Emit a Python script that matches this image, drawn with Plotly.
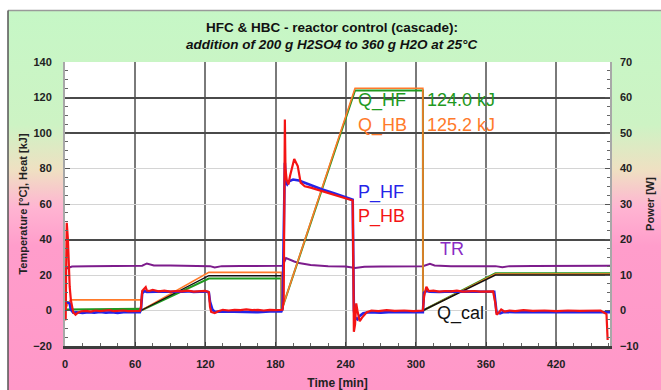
import base64
import plotly.graph_objects as go

# ---------------- data ----------------
# Reactor temperature TR [°C]
t_tr = [0, 1, 3, 6, 20, 40, 60, 66, 70, 76, 90, 110, 124, 128, 134, 150, 170, 186, 189, 192,
        196, 200, 210, 225, 240, 248, 256, 270, 290, 306, 312, 316, 330, 350, 368, 374, 380,
        400, 430, 466]
tr = [23.3, 23.5, 24.2, 24.8, 25.0, 25.1, 25.1, 25.2, 26.5, 25.4, 25.3, 25.2, 25.0, 24.2,
      25.0, 25.1, 25.2, 25.2, 29.5, 28.5, 27.6, 26.7, 25.6, 25.0, 24.8, 23.9, 24.6, 24.8,
      24.9, 25.0, 26.3, 25.4, 25.0, 24.9, 25.0, 24.4, 25.0, 25.1, 25.2, 25.2]

# Heat Q_HF [kJ]
t_qhf = [0, 65, 65.1, 123, 185, 185.1, 248, 306, 306.1, 368, 466]
q_hf = [0.5, 1.0, 0.0, 18.0, 18.0, 0.0, 124.0, 124.0, 0.0, 21.0, 21.0]

# Heat Q_HB [kJ]
t_qhb = [0, 1, 3, 5, 65, 65.1, 123, 185, 185.1, 248, 306, 306.1, 368, 466]
q_hb = [0.0, 1.5, 4.5, 6.0, 6.0, 0.0, 21.5, 21.5, 0.0, 125.2, 125.2, 0.0, 20.6, 20.6]

# Calibration heat Q_cal [kJ]
t_qcal = [65, 123, 185, 250, 306, 368, 466]
q_cal = [0.0, 19.6, 19.6, None, 0.0, 20.0, 20.0]

# Power P_HF [W]
t_phf = [0, 0.5, 2, 4, 5, 7, 10, 15, 20, 25, 30, 35, 40, 45, 50, 55, 60, 64, 65, 66, 68, 70,
         75, 80, 85, 90, 95, 100, 105, 110, 115, 122, 123, 124, 126, 128, 135, 145, 155, 165,
         175, 185, 186, 187, 188, 189, 190, 192, 195, 200, 210, 220, 230, 240, 246, 246.5,
         247, 248, 250, 252, 255, 260, 270, 280, 290, 300, 306, 307, 309, 312, 320, 330, 340,
         350, 360, 367, 368, 368.5, 369, 370, 372, 375, 385, 400, 420, 440, 460, 466]
p_hf = [1.5, 2.2, 2.3, 2.0, 0.2, -0.6, -0.5, -0.7, -0.5, -0.6, -0.4, -0.6, -0.5, -0.7, -0.5,
        -0.6, -0.5, -0.5, 0.5, 4.8, 5.5, 5.2, 5.3, 5.2, 5.4, 5.3, 5.2, 5.3, 5.4, 5.2, 5.3, 5.3,
        5.0, 2.5, 0.3, -0.4, -0.3, -0.4, -0.3, -0.5, -0.3, -0.3, 0.5, 20.0, 41.6, 36.0, 35.5,
        36.5, 36.9, 36.6, 35.3, 34.1, 33.0, 31.9, 31.2, 15.0, 0.0, -2.0, -2.5, -1.5, -0.8,
        -0.5, -0.6, -0.4, -0.5, -0.6, -0.5, 5.0, 5.5, 5.3, 5.2, 5.4, 5.3, 5.2, 5.3, 5.3, 3.0,
        0.5, -0.5, -0.6, -0.8, -0.4, -0.5, -0.4, -0.5, -0.4, -0.5, -0.5]

# Power P_HB [W]
t_phb = [0, 0.6, 1, 1.5, 2.5, 3.5, 4, 5, 6, 7, 9, 11, 14, 18, 22, 26, 30, 34, 38, 42, 46, 50,
         54, 58, 62, 64, 65, 66, 69, 70, 72, 75, 80, 85, 90, 95, 100, 105, 110, 115, 120, 123,
         124, 125, 128, 131, 135, 140, 145, 150, 155, 160, 165, 170, 175, 180, 186, 187,
         187.5, 188, 188.5, 189.5, 191, 192.5, 196, 199, 201.5, 205, 210, 220, 230, 240, 246,
         246.6, 247, 248, 249, 250, 252, 254, 258, 262, 268, 275, 282, 290, 298, 306, 307, 309,
         311, 315, 320, 325, 330, 335, 340, 345, 350, 355, 360, 366, 368, 368.5, 369, 371,
         373, 376, 380, 385, 392, 400, 410, 420, 430, 440, 450, 458, 463, 464, 466]
p_hb = [-2.7, -2.5, 12.0, 24.7, 20.0, 10.0, 6.7, 3.0, 1.1, -0.5, -1.2, -0.6, -0.2, -0.1, -0.3,
        0.0, -0.2, -0.1, 0.1, -0.2, -0.1, 0.0, -0.2, -0.1, 0.0, -0.1, 1.0, 5.5, 6.6, 5.6, 5.5,
        5.8, 5.4, 5.6, 5.3, 5.5, 5.4, 5.6, 5.3, 5.4, 5.5, 5.2, 1.0, -0.4, -0.75, -0.2, 0.2, 0.0,
        0.2, 0.1, 0.3, 0.1, 0.2, 0.0, 0.2, 0.1, 0.2, 3.0, 40.0, 53.8, 40.0, 36.9, 35.5, 38.0,
        42.7, 40.7, 36.0, 35.0, 34.6, 33.6, 32.6, 31.6, 31.0, 10.0, -6.0, -4.0, 2.0, 0.0, -3.0,
        -2.0, -0.5, 0.0, -0.2, 0.1, -0.1, 0.0, -0.2, 0.0, 4.0, 6.7, 5.5, 5.6, 5.3, 5.5, 5.4,
        5.6, 5.3, 5.4, 5.5, 5.3, 5.4, 5.4, 2.0, 0.0, -1.2, -0.6, 0.3, -0.3, 0.0, -0.2, 0.1,
        -0.1, 0.0, -0.2, 0.0, -0.1, 0.0, 0.0, -1.0, -8.3]

x_ticks = [0, 60, 120, 180, 240, 300, 360, 420]
x_tick_labels = ["0", "60", "120", "180", "240", "300", "360", "420"]
dark_grid = [120, 100, 40]

# ---------------- layout geometry ----------------
W, H = 661, 390
ML, MR, MT, MB = 65, 51, 62, 44
PW, PH = W - ML - MR, H - MT - MB
FONT = "Liberation Sans, Arial, sans-serif"

GREEN = "#1f9a1f"
ORANGE = "#ff7a2a"
BLUE = "#2424e8"
RED = "#f41414"
PURPLE = "#7d1c8c"

fig = go.Figure()
# helper trace that makes the overlay axis carrying the dark grid lines exist
fig.add_trace(go.Scatter(x=[None], y=[None], yaxis="y3", showlegend=False, hoverinfo="skip"))
fig.add_trace(go.Scatter(x=t_tr, y=tr, mode="lines", line=dict(color=PURPLE, width=2), name="TR"))
fig.add_trace(go.Scatter(x=t_qhf, y=q_hf, mode="lines", line=dict(color=GREEN, width=2), name="Q_HF"))
fig.add_trace(go.Scatter(x=t_qhb, y=q_hb, mode="lines", line=dict(color=ORANGE, width=1.6), name="Q_HB"))
fig.add_trace(go.Scatter(x=t_qcal, y=q_cal, mode="lines", line=dict(color="#111111", width=1.4),
                         connectgaps=False, name="Q_cal"))
fig.add_trace(go.Scatter(x=t_phf, y=p_hf, mode="lines", line=dict(color=BLUE, width=2.6),
                         yaxis="y2", name="P_HF"))
fig.add_trace(go.Scatter(x=t_phb, y=p_hb, mode="lines", line=dict(color=RED, width=2.2),
                         yaxis="y2", name="P_HB"))

# background gradient (outside plot area)
svg = ("<svg xmlns='http://www.w3.org/2000/svg' width='653' height='379' preserveAspectRatio='none'>"
       "<defs><linearGradient id='g' x1='0' y1='0' x2='0' y2='1'>"
       "<stop offset='0' stop-color='#c6f7c6'/>"
       "<stop offset='0.30' stop-color='#cdf3c4'/>"
       "<stop offset='0.42' stop-color='#efe0c2'/>"
       "<stop offset='0.52' stop-color='#ffb4d2'/>"
       "<stop offset='0.62' stop-color='#ff9dcb'/>"
       "<stop offset='1' stop-color='#ff98c8'/>"
       "</linearGradient></defs><rect width='100%' height='100%' fill='url(#g)'/></svg>")
src = "data:image/svg+xml;base64," + base64.b64encode(svg.encode()).decode()


def px_x(p):
    return (p - ML) / PW


def px_y(p):
    return (H - MB - p) / PH


shapes = [
    # white plot area on top of the background picture
    dict(type="rect", xref="paper", yref="paper", x0=0, x1=1, y0=0, y1=1,
         fillcolor="white", line=dict(width=0), layer="below"),
    # frame border lines of the window
    dict(type="line", xref="paper", yref="paper", x0=px_x(8), x1=px_x(W), y0=px_y(10.5),
         y1=px_y(10.5), line=dict(color="#9a9a9a", width=1.5), layer="above"),
    dict(type="line", xref="paper", yref="paper", x0=px_x(8), x1=px_x(8), y0=px_y(10.5),
         y1=px_y(H), line=dict(color="#555555", width=1.5), layer="above"),
]


def ann(x, y, text, color, size=18):
    return dict(x=x, y=y, xref="x", yref="y", text=text, showarrow=False, xanchor="left",
                yanchor="middle", font=dict(family=FONT, size=size, color=color))


annotations = [
    ann(249, 118.5, "Q_HF", GREEN),
    ann(307.5, 118.5, "124.0 kJ", GREEN),
    ann(249, 104.5, "Q_HB", ORANGE),
    ann(307.5, 104.5, "125.2 kJ", ORANGE),
    ann(249, 66.5, "P_HF", BLUE),
    ann(249, 53.0, "P_HB", RED),
    ann(319, 34.5, "TR", "#8a2cc4"),
    ann(316, -1.5, "Q_cal", "#111111"),
    dict(xref="paper", yref="paper", x=px_x(332), y=px_y(27),
         text="<b>HFC &amp; HBC - reactor control (cascade):</b>",
         showarrow=False, xanchor="center", yanchor="middle",
         font=dict(family=FONT, size=13.5, color="#111111")),
    dict(xref="paper", yref="paper", x=px_x(331), y=px_y(44),
         text="<b><i>addition of 200 g H2SO4 to 360 g H2O at 25°C</i></b>",
         showarrow=False, xanchor="center", yanchor="middle",
         font=dict(family=FONT, size=13.5, color="#111111")),
]

tickfont = dict(family=FONT, size=11, color="#222222", weight="bold")

fig.update_layout(
    width=W, height=H,
    margin=dict(l=ML, r=MR, t=MT, b=MB, pad=0, autoexpand=False),
    paper_bgcolor="white",
    plot_bgcolor="white",
    showlegend=False,
    images=[dict(source=src, xref="paper", yref="paper", x=px_x(8), y=px_y(11),
                 sizex=(W - 8) / PW, sizey=(H - 11) / PH, xanchor="left", yanchor="top",
                 sizing="stretch", layer="below")],
    shapes=shapes,
    annotations=annotations,
    xaxis=dict(range=[0, 466], tickvals=x_ticks, ticktext=x_tick_labels, tickfont=tickfont,
               showgrid=True, gridcolor="#7a7a7a", gridwidth=1.5, zeroline=False,
               showline=True, linecolor="#3c3c3c", linewidth=2.5,
               ticks="inside", ticklen=4, tickcolor="#3c3c3c",
               minor=dict(dtick=15, ticks="inside", ticklen=3, tickcolor="#666666", showgrid=False),
               ticklabelstandoff=6, automargin=False,
               title=dict(text="<b>Time [min]</b>", font=dict(family=FONT, size=12, color="#222222"),
                          standoff=12)),
    yaxis=dict(range=[-20, 140], dtick=20, tickfont=tickfont, showgrid=True, gridcolor="#d4d4d4",
               gridwidth=1.2, zeroline=False, showline=True, linecolor="#a8a8a8", linewidth=2,
               ticks="inside", ticklen=5, tickcolor="#555555",
               minor=dict(dtick=5, ticks="inside", ticklen=3, tickcolor="#666666", showgrid=False),
               ticklabelstandoff=9, automargin=False,
               title=dict(text="<b>Temperature [°C], Heat [kJ]</b>",
                          font=dict(family=FONT, size=11, color="#222222"), standoff=3)),
    yaxis2=dict(range=[-10, 70], dtick=10, overlaying="y", side="right", tickfont=tickfont,
                showgrid=False, zeroline=False, showline=True, linecolor="#a8a8a8", linewidth=1.5,
                ticks="inside", ticklen=5, tickcolor="#555555",
                minor=dict(dtick=2.5, ticks="inside", ticklen=3, tickcolor="#666666", showgrid=False),
                ticklabelstandoff=6, automargin=False,
                title=dict(text="<b>Power [W]</b>", font=dict(family=FONT, size=11, color="#222222"),
                           standoff=9)),
    yaxis3=dict(range=[-20, 140], overlaying="y", side="left", tickvals=dark_grid,
                showticklabels=False, ticks="", showgrid=True, gridcolor="#4a4a4a", gridwidth=1.6,
                zeroline=False, showline=False, automargin=False),
)

fig.write_html("out.html")
